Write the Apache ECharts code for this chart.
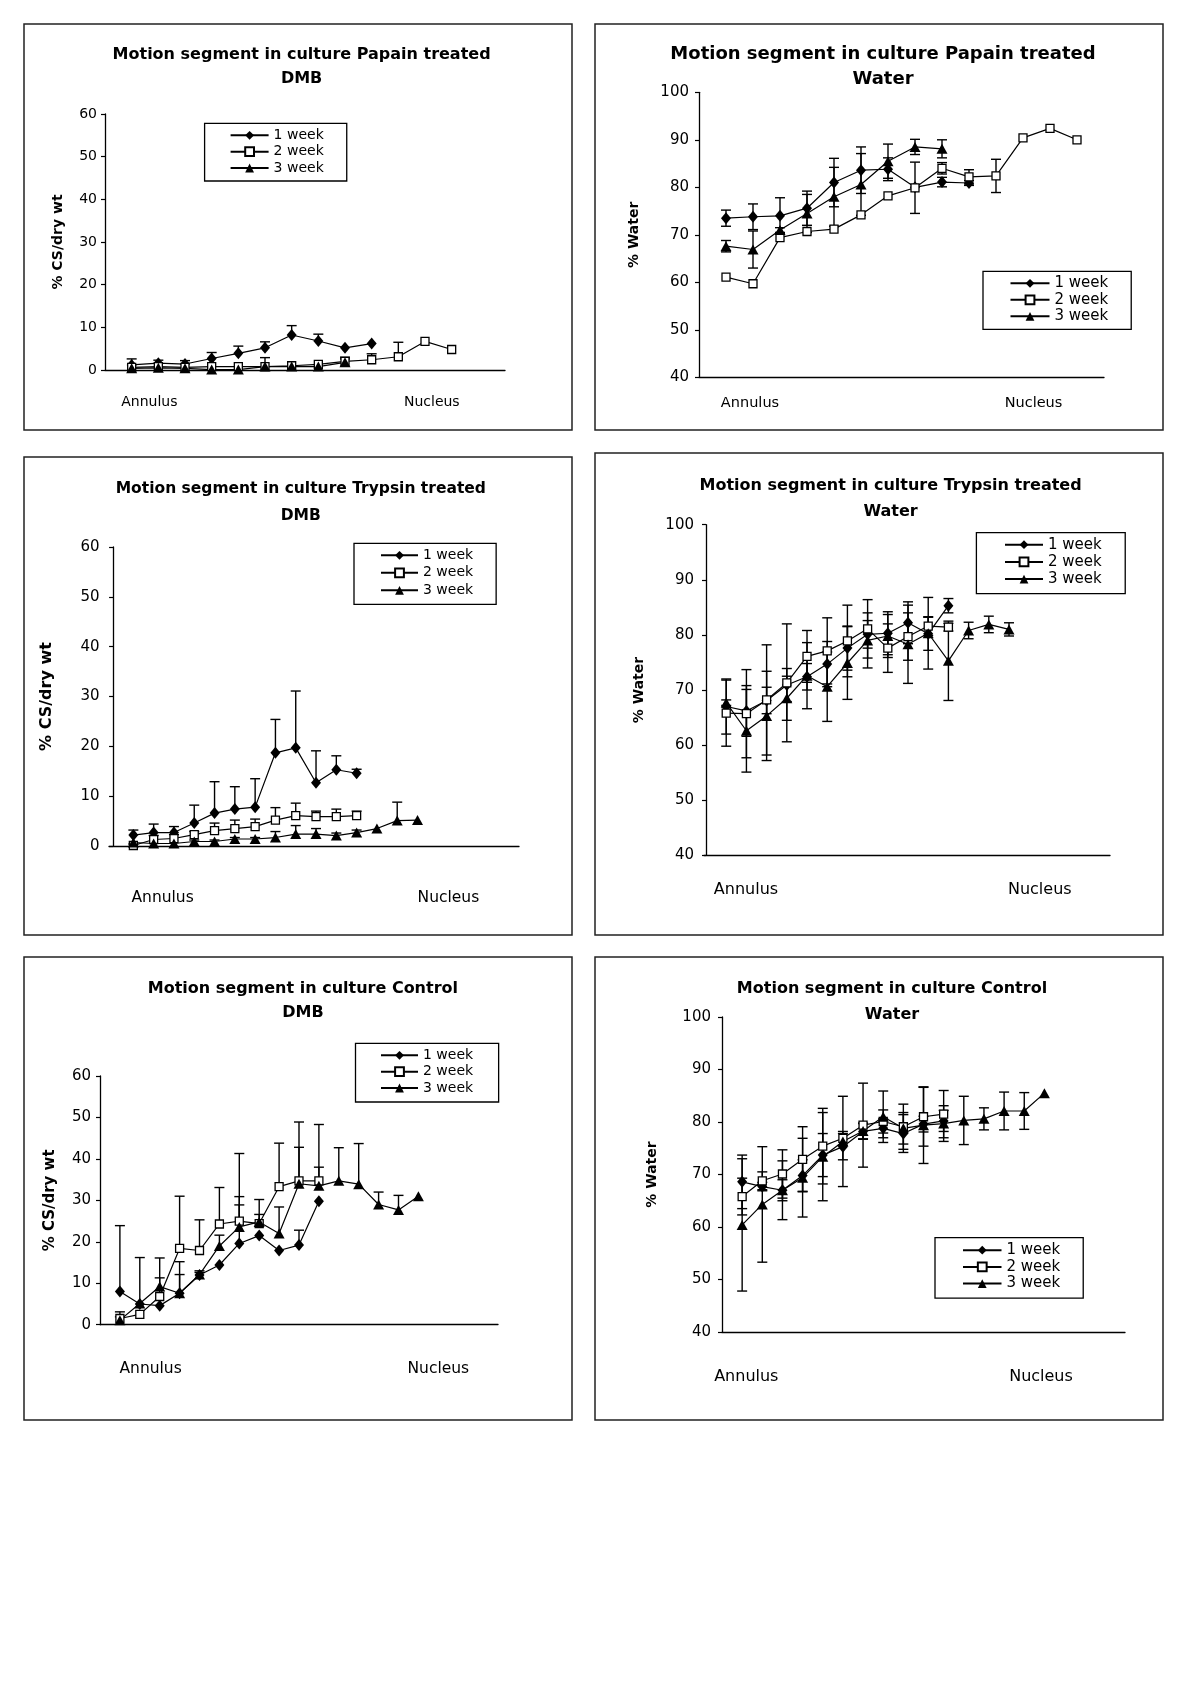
<!DOCTYPE html>
<html><head><meta charset="utf-8">
<script src="https://cdn.jsdelivr.net/npm/echarts@6/dist/echarts.min.js"></script>
<style>html,body{margin:0;padding:0;background:#fff}#c{width:1200px;height:1699px}</style>
</head><body><div id="c"></div>
<script>
// ---------- text ----------
const weekNames = ['1 week', '2 week', '3 week'];
const endLabels = ['Annulus', 'Nucleus'];
const panelTitles = [
  'Motion segment in culture Papain treated\nDMB',
  'Motion segment in culture Papain treated\nWater',
  'Motion segment in culture Trypsin treated\nDMB',
  'Motion segment in culture Trypsin treated\nWater',
  'Motion segment in culture Control\nDMB',
  'Motion segment in culture Control\nWater'
];
const yNames = ['% CS/dry wt', '% Water', '% CS/dry wt', '% Water', '% CS/dry wt', '% Water'];
const dmbTicks = { min: 0, max: 60, interval: 10 };
const waterTicks = { min: 40, max: 100, interval: 10 };

// ---------- data (position 1..n from annulus to nucleus) ----------
// Papain DMB
const p1W1 = [1.2, 1.6, 1.4, 2.7, 3.9, 5.2, 8.2, 6.8, 5.2, 6.2];
const p1W1Err = [1.4, 0.7, 0.8, 1.4, 1.7, 1.4, 2.2, 1.6, 0, 0];
const p1W2 = [0.6, 0.8, 0.6, 0.8, 0.8, 0.8, 1.0, 1.3, 2.0, 2.4, 3.1, 6.7, 4.8];
const p1W2Err = [0, 0, 0, 0, 0, 0, 0, 0, 1.0, 1.4, 3.4, 0, 0];
const p1W3 = [0.4, 0.5, 0.4, 0.1, 0.1, 0.8, 0.8, 0.8, 1.8];
const p1W3Err = [0, 0, 0, 0, 0, 2.1, 0, 0, 0.8];
// Papain Water
const p2W1 = [73.5, 73.8, 74.0, 75.6, 81.0, 83.6, 83.8, 80.0, 81.1, 80.9];
const p2W1Err = [1.7, 2.7, 3.8, 3.6, 5.1, 4.9, 2.4, 0, 1.0, 0.5];
const p2W2 = [61.1, 59.7, 69.4, 70.7, 71.2, 74.2, 78.2, 79.9, 84.0, 82.2, 82.4, 90.4, 92.4, 90.0];
const p2W2Err = [0, 0, 0, 0, 0, 0, 0, 5.4, 1.2, 1.5, 3.5, 0, 0, 0];
const p2W3 = [67.6, 66.9, 71.0, 74.5, 78.0, 80.6, 85.5, 88.5, 88.1];
const p2W3Err = [1.2, 3.9, 0.5, 4.0, 6.2, 6.5, 3.6, 1.6, 1.9];
// Trypsin DMB
const p3W1 = [2.2, 2.7, 2.7, 4.6, 6.6, 7.4, 7.8, 18.7, 19.7, 12.7, 15.3, 14.6];
const p3W1Err = [1.0, 1.7, 1.2, 3.6, 6.3, 4.5, 5.7, 6.7, 11.4, 6.4, 2.8, 0.8];
const p3W2 = [0.1, 1.3, 1.5, 2.3, 3.1, 3.5, 3.9, 5.2, 6.1, 5.9, 5.9, 6.1];
const p3W2Err = [0.3, 0.8, 0.8, 0.6, 1.5, 1.7, 1.5, 2.5, 2.5, 1.1, 1.5, 0.9];
const p3W3 = [0.7, 0.5, 0.5, 0.9, 0.9, 1.4, 1.4, 1.7, 2.4, 2.4, 2.1, 2.7, 3.5, 5.1, 5.2];
const p3W3Err = [0, 0, 0, 0.3, 0.3, 0.3, 0.3, 1.2, 1.7, 1.1, 0.5, 0.5, 0, 3.7, 0];
// Trypsin Water
const p4W1 = [67.0, 66.2, 68.1, 70.9, 72.4, 74.7, 77.6, 80.1, 80.3, 82.2, 80.2, 85.3];
const p4W1Err = [5.0, 4.6, 2.4, 3.0, 2.4, 4.1, 4.0, 2.5, 3.9, 3.8, 3.0, 1.3];
const p4W2 = [65.8, 65.7, 68.2, 71.3, 76.1, 77.1, 78.9, 81.1, 77.6, 79.7, 81.6, 81.4];
const p4W2Err = [6.0, 8.0, 10.0, 10.7, 4.7, 6.0, 6.5, 5.3, 4.4, 4.3, 1.7, 0.7];
const p4W3 = [67.7, 62.6, 65.3, 68.5, 72.6, 70.6, 74.9, 79.0, 79.8, 78.3, 80.3, 75.3, 80.8, 81.9, 81.0];
const p4W3Err = [0.5, 7.5, 8.1, 4.0, 6.0, 6.3, 6.6, 5.0, 3.9, 7.1, 6.5, 7.2, 1.5, 1.5, 1.2];
// Control DMB
const p5W1 = [8.0, 5.0, 4.6, 7.6, 12.0, 14.4, 19.6, 21.5, 17.9, 19.2, 29.8];
const p5W1Err = [15.9, 11.2, 0, 7.6, 1.0, 0, 9.3, 0, 0, 3.6, 0];
const p5W2 = [1.5, 2.5, 6.8, 18.4, 17.9, 24.3, 25.0, 24.4, 33.3, 34.7, 34.7];
const p5W2Err = [1.6, 0, 4.5, 12.6, 7.4, 8.8, 16.3, 2.2, 10.5, 14.2, 13.6];
const p5W3 = [1.1, 5.1, 9.2, 7.6, 12.1, 19.0, 23.6, 24.8, 22.0, 34.0, 33.5, 34.7, 33.9, 29.0, 27.7, 31.0];
const p5W3Err = [0.8, 0, 6.9, 4.5, 0.5, 2.6, 7.3, 5.4, 6.4, 8.8, 4.5, 8.0, 9.8, 3.0, 3.5, 0];
// Control Water
const p6W1 = [68.6, 67.7, 67.0, 69.8, 73.7, 75.3, 78.2, 78.8, 77.8, 79.6, 80.2];
const p6W1Err = [5.1, 0.8, 2.0, 3.0, 4.1, 2.5, 1.5, 1.8, 3.6, 1.5, 2.0];
const p6W2 = [65.8, 68.8, 70.1, 72.9, 75.4, 76.9, 79.4, 80.1, 79.1, 81.0, 81.5];
const p6W2Err = [3.5, 1.7, 4.6, 6.2, 7.2, 1.3, 8.0, 2.2, 4.3, 5.6, 4.5];
const p6W3 = [60.4, 64.3, 67.0, 69.4, 73.4, 76.3, 78.3, 81.0, 78.8, 79.4, 79.7, 80.3, 80.6, 82.1, 82.1, 85.5];
const p6W3Err = [12.6, 11.0, 5.6, 7.5, 8.4, 8.6, 1.5, 4.9, 3.0, 7.3, 3.4, 4.6, 2.1, 3.6, 3.5, 0];

// ---------- layout ----------
const FONT = 'DejaVu Sans';
const panels = [
  { border: [24, 24, 548, 406], grid: { left: 105, top: 114, width: 400, height: 256 }, x: [0, 15], ticks: dmbTicks, both: false,
    nameGap: 40, nameSize: 14, labelMargin: 8, labelSize: 14,
    title: { cx: 301.6, top: 42.5, size: 16, lh: 24.3 },
    legend: { left: 204.6, top: 123.3, pad: [5, 23, 6, 25], gap: 2.35, fs: 14, iw: 38 },
    ends: [[149.4, 402.3], [431.8, 402.3]], endSize: 14,
    series: [[p1W1, p1W1Err], [p1W2, p1W2Err], [p1W3, p1W3Err]] },
  { border: [595, 24, 568, 406], grid: { left: 699, top: 92.3, width: 405, height: 285 }, x: [0, 15], ticks: waterTicks, both: true,
    nameGap: 58, nameSize: 14, labelMargin: 10, labelSize: 15,
    title: { cx: 883, top: 42.5, size: 18, lh: 24.3 },
    legend: { left: 983, top: 271.3, pad: [4.5, 23, 5.5, 26.5], gap: 1.5, fs: 15, iw: 39 },
    ends: [[750, 403.3], [1033.5, 403.3]], endSize: 14.5,
    series: [[p2W1, p2W1Err], [p2W2, p2W2Err], [p2W3, p2W3Err]] },
  { border: [24, 457, 548, 478], grid: { left: 109, top: 547, width: 410, height: 299 }, x: [-0.2, 20], ticks: dmbTicks, both: false,
    nameGap: 54, nameSize: 16, labelMargin: 9.5, labelSize: 15,
    title: { cx: 300.8, top: 476, size: 15.5, lh: 26.7 },
    legend: { left: 354, top: 543.3, pad: [5, 23, 7, 26], gap: 3.5, fs: 14, iw: 37 },
    ends: [[162.6, 897.7], [448.4, 897.7]], endSize: 15.5,
    series: [[p3W1, p3W1Err], [p3W2, p3W2Err], [p3W3, p3W3Err]] },
  { border: [595, 453, 568, 482], grid: { left: 704, top: 524.7, width: 406, height: 330.6 }, x: [-0.1, 20], ticks: waterTicks, both: true,
    nameGap: 57.5, nameSize: 14, labelMargin: 10, labelSize: 15,
    title: { cx: 890.6, top: 472, size: 16, lh: 26.7 },
    legend: { left: 976.4, top: 532.7, pad: [4.5, 23.5, 7, 27.6], gap: 2.2, fs: 15, iw: 38 },
    ends: [[746, 890.3], [1039.8, 890.3]], endSize: 16,
    series: [[p4W1, p4W1Err], [p4W2, p4W2Err], [p4W3, p4W3Err]] },
  { border: [24, 957, 548, 463], grid: { left: 100, top: 1076, width: 398, height: 248.7 }, x: [0, 20], ticks: dmbTicks, both: false,
    nameGap: 42, nameSize: 15, labelMargin: 9, labelSize: 15,
    title: { cx: 302.9, top: 977.3, size: 16, lh: 24 },
    legend: { left: 355.5, top: 1043.3, pad: [5, 25.5, 7, 24.5], gap: 2.35, fs: 14, iw: 37 },
    ends: [[150.6, 1368.7], [438.3, 1368.7]], endSize: 15.5,
    series: [[p5W1, p5W1Err], [p5W2, p5W2Err], [p5W3, p5W3Err]] },
  { border: [595, 957, 568, 463], grid: { left: 722, top: 1017, width: 403, height: 315 }, x: [0, 20], ticks: waterTicks, both: true,
    nameGap: 63, nameSize: 14, labelMargin: 11, labelSize: 15,
    title: { cx: 892, top: 976.3, size: 16, lh: 26 },
    legend: { left: 935, top: 1237.7, pad: [5, 23, 7, 27], gap: 1.7, fs: 15, iw: 38.5 },
    ends: [[746.3, 1376.7], [1041, 1376.7]], endSize: 16,
    series: [[p6W1, p6W1Err], [p6W2, p6W2Err], [p6W3, p6W3Err]] }
];

const weekStyles = [
  { symbol: 'diamond', symbolSize: [10, 12], itemStyle: { color: '#000' } },
  { symbol: 'rect', symbolSize: 8, itemStyle: { color: '#fff', borderColor: '#000', borderWidth: 1.3 } },
  { symbol: 'triangle', symbolSize: [11, 10], itemStyle: { color: '#000' } }
];

function errRenderer(both) {
  return function (params, api) {
    const x = api.value(0), v = api.value(1), e = api.value(2);
    if (!e) return null;
    const top = api.coord([x, v + e]);
    const bot = api.coord([x, both ? v - e : v]);
    const hw = 5;
    const st = { stroke: '#000', lineWidth: 1.4 };
    const children = [
      { type: 'line', shape: { x1: top[0], y1: top[1], x2: bot[0], y2: bot[1] }, style: st },
      { type: 'line', shape: { x1: top[0] - hw, y1: top[1], x2: top[0] + hw, y2: top[1] }, style: st }
    ];
    if (both) children.push({ type: 'line', shape: { x1: bot[0] - hw, y1: bot[1], x2: bot[0] + hw, y2: bot[1] }, style: st });
    return { type: 'group', children: children };
  };
}

const option = {
  animation: false,
  backgroundColor: '#fff',
  title: [], legend: [], grid: [], xAxis: [], yAxis: [], series: [], graphic: []
};

panels.forEach(function (p, pi) {
  option.grid.push(Object.assign({ containLabel: false }, p.grid));
  option.xAxis.push({
    type: 'value', gridIndex: pi, min: p.x[0], max: p.x[1],
    axisLine: { show: true, onZero: false, lineStyle: { color: '#000', width: 1.3 } },
    axisTick: { show: false }, axisLabel: { show: false }, splitLine: { show: false }
  });
  option.yAxis.push({
    type: 'value', gridIndex: pi, min: p.ticks.min, max: p.ticks.max, interval: p.ticks.interval,
    name: yNames[pi], nameLocation: 'middle', nameGap: p.nameGap,
    nameTextStyle: { fontFamily: FONT, fontWeight: 'bold', fontSize: p.nameSize, color: '#000' },
    axisLine: { show: true, lineStyle: { color: '#000', width: 1.3 } },
    axisTick: { show: true, inside: false, length: 4, lineStyle: { color: '#000', width: 1.2 } },
    axisLabel: { color: '#000', fontFamily: FONT, fontSize: p.labelSize, margin: p.labelMargin },
    splitLine: { show: false }
  });
  option.title.push({
    text: panelTitles[pi], left: p.title.cx, top: p.title.top, textAlign: 'center', padding: 0,
    textStyle: { fontFamily: FONT, fontWeight: 'bold', fontSize: p.title.size, lineHeight: p.title.lh, color: '#000' }
  });
  option.legend.push({
    data: weekNames, orient: 'vertical', left: p.legend.left, top: p.legend.top,
    padding: p.legend.pad, itemGap: p.legend.gap, itemWidth: p.legend.iw, itemHeight: 11,
    borderColor: '#000', borderWidth: 1.3, backgroundColor: '#fff', selectedMode: false,
    textStyle: { fontFamily: FONT, fontSize: p.legend.fs, lineHeight: p.legend.fs, color: '#000' }
  });
  p.series.forEach(function (s, k) {
    const vals = s[0], errs = s[1];
    option.series.push({
      type: 'custom', name: 'err-' + pi + '-' + k, coordinateSystem: 'cartesian2d',
      xAxisIndex: pi, yAxisIndex: pi, silent: true, z: 2,
      encode: { x: 0, y: 1 },
      data: vals.map(function (v, i) { return [i + 1, v, errs[i]]; }),
      renderItem: errRenderer(p.both)
    });
    option.series.push(Object.assign({
      type: 'line', name: weekNames[k], xAxisIndex: pi, yAxisIndex: pi, z: 3,
      showSymbol: true, lineStyle: { color: '#000', width: 1.2 },
      emphasis: { disabled: true },
      data: vals.map(function (v, i) { return [i + 1, v]; })
    }, weekStyles[k]));
  });
  option.graphic.push({
    type: 'rect', silent: true, z: 0,
    shape: { x: p.border[0], y: p.border[1], width: p.border[2], height: p.border[3] },
    style: { fill: 'none', stroke: '#222', lineWidth: 1.5 }
  });
  p.ends.forEach(function (pos, j) {
    option.graphic.push({
      type: 'text', silent: true, x: pos[0], y: pos[1],
      style: { text: endLabels[j], font: 'normal ' + p.endSize + 'px "' + FONT + '"', fill: '#000',
        textAlign: 'center', textVerticalAlign: 'middle', align: 'center', verticalAlign: 'middle' }
    });
  });
});

const chart = echarts.init(document.getElementById('c'), null, { renderer: 'canvas', width: 1200, height: 1699 });
chart.setOption(option);
</script>
</body></html>
